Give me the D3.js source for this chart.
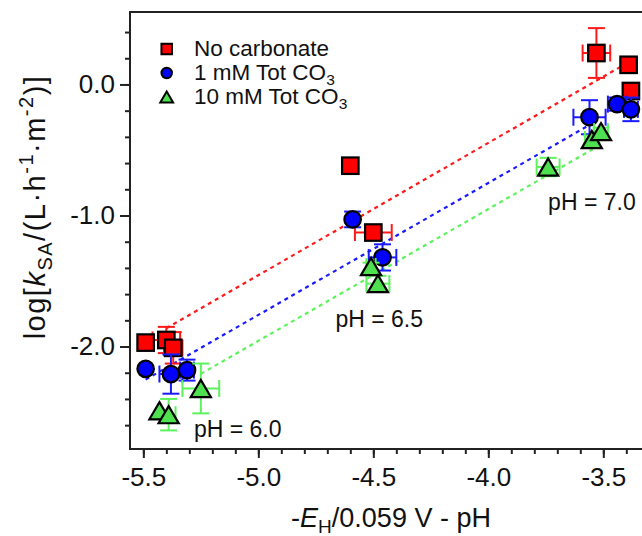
<!DOCTYPE html>
<meta charset="utf-8">
<style>
  body { margin: 0; background: #fff; }
  svg { display: block; font-family: "Liberation Sans", Arial, Helvetica, sans-serif; }
  .frame { fill: none; stroke: #222; stroke-width: 2; }
  .axis path { display: none; }
  .axis line { stroke: #222; stroke-width: 2; }
  .axis text { fill: #111; }
</style>
<svg width="642" height="536"></svg>
<script src="https://d3js.org/d3.v7.min.js"></script>
<script>
  // data
  var redX    = [-5.49, -5.40, -5.37, -4.60, -4.50, -3.53, -3.39, -3.38];
  var redY    = [-1.97, -1.95, -2.01, -0.62, -1.13,  0.24,  0.15, -0.05];
  var redXerr = [0, 0.06, 0.04, 0, 0.08, 0.06, 0, 0];
  var redYerr = [0.03, 0.10, 0.12, 0.02, 0.02, 0.19, 0, 0.02];

  var blueX    = [-5.49, -5.38, -5.31, -4.59, -4.46, -3.56, -3.44, -3.38];
  var blueY    = [-2.17, -2.21, -2.18, -1.03, -1.32, -0.25, -0.15, -0.19];
  var blueXerr = [0, 0.05, 0.03, 0, 0.06, 0.07, 0.04, 0.03];
  var blueYerr = [0, 0.15, 0.08, 0.06, 0.10, 0.13, 0.05, 0.09];

  var greenX    = [-5.43, -5.39, -5.25, -4.51, -4.48, -3.74, -3.55, -3.51];
  var greenY    = [-2.49, -2.52, -2.32, -1.39, -1.52, -0.63, -0.42, -0.36];
  var greenXerr = [0, 0.03, 0.08, 0.02, 0.05, 0.05, 0.03, 0.03];
  var greenYerr = [0, 0.12, 0.19, 0.03, 0.06, 0.07, 0.03, 0.03];

  // dotted fit lines: y = slope*x + intercept
  var fitSlope     = [1.01, 1.007, 1.006];
  var fitIntercept = [3.594, 3.276, 3.073];
  var fitXStart    = [-5.40, -5.49, -5.25];
  var fitXEnd      = [-3.40, -3.57, -3.53];

  var legendNames = ["No carbonate", "1 mM Tot CO", "10 mM Tot CO"];
  var phLabels = ["pH = 6.0", "pH = 6.5", "pH = 7.0"];
  var phLabelX = [-5.28, -4.665, -3.74];
  var phLabelY = [-2.69, -1.85, -0.96];

  var xMajor = [-5.5, -5.0, -4.5, -4.0, -3.5];
  var xMinor = d3.range(-55, -32).map(function(d){ return d / 10; });
  var yMajor = [-2.0, -1.0, 0.0];
  var yMinor = d3.range(-13, 3).map(function(d){ return d / 5; });

  var svg = d3.select("svg");
  var pLeft = 130, pRight = 660, pTop = 12, pBottom = 449;

  var x = d3.scaleLinear().domain([-5.558, -3.2535]).range([pLeft, pRight]);
  var y = d3.scaleLinear().domain([-2.782, 0.553]).range([pBottom, pTop]);

  var colors = ["#ff0000", "#0000ff", "#4ee04e"];
  var barColors = ["#ff1a1a", "#1a1aff", "#5cf25c"];

  var series = [
    {x: redX, y: redY, xe: redXerr, ye: redYerr, shape: "square"},
    {x: blueX, y: blueY, xe: blueXerr, ye: blueYerr, shape: "circle"},
    {x: greenX, y: greenY, xe: greenXerr, ye: greenYerr, shape: "triangle"}
  ];

  function marker(sel, shape, s) {
    if (shape == "square") {
      sel.append("rect").attr("x", -s/2).attr("y", -s/2).attr("width", s).attr("height", s);
    } else if (shape == "circle") {
      sel.append("circle").attr("r", s/2);
    } else {
      var w = s * 1.22, h = s * 1.04;
      sel.append("path").attr("d", "M0," + (-h/2) + "L" + (w/2) + "," + (h/2) + "L" + (-w/2) + "," + (h/2) + "Z");
    }
  }

  // axes
  svg.append("g").attr("class", "axis").attr("transform", "translate(0," + pBottom + ")")
    .call(d3.axisBottom(x).tickValues(xMinor).tickSize(5).tickFormat(""));
  svg.append("g").attr("class", "axis").attr("transform", "translate(0," + pBottom + ")")
    .call(d3.axisBottom(x).tickValues(xMajor).tickSize(9).tickPadding(10).tickFormat(function(d){ return d.toFixed(1); }))
    .selectAll("text").style("font-size", "26px");
  svg.append("g").attr("class", "axis").attr("transform", "translate(" + pLeft + ",0)")
    .call(d3.axisLeft(y).tickValues(yMinor).tickSize(5).tickFormat(""));
  svg.append("g").attr("class", "axis").attr("transform", "translate(" + pLeft + ",0)")
    .call(d3.axisLeft(y).tickValues(yMajor).tickSize(10).tickPadding(5).tickFormat(function(d){ return d.toFixed(1); }))
    .selectAll("text").style("font-size", "26px");

  svg.append("rect").attr("class", "frame")
    .attr("x", pLeft).attr("y", pTop).attr("width", pRight - pLeft).attr("height", pBottom - pTop);

  // fit lines
  fitSlope.forEach(function(m, i) {
    svg.append("line")
      .attr("x1", x(fitXStart[i])).attr("y1", y(m * fitXStart[i] + fitIntercept[i]))
      .attr("x2", x(fitXEnd[i])).attr("y2", y(m * fitXEnd[i] + fitIntercept[i]))
      .attr("stroke", barColors[i]).attr("stroke-width", 2.2).attr("stroke-dasharray", "4,4");
  });

  // error bars and markers
  var cap = 8.5;
  series.forEach(function(s, i) {
    var g = svg.append("g");
    s.x.forEach(function(xv, j) {
      var cx = x(xv), cy = y(s.y[j]);
      var eb = g.append("g").attr("stroke", barColors[i]).attr("stroke-width", 2);
      if (s.xe[j] > 0) {
        var xa = x(xv - s.xe[j]), xb = x(xv + s.xe[j]);
        eb.append("line").attr("x1", xa).attr("x2", xb).attr("y1", cy).attr("y2", cy);
        eb.append("line").attr("x1", xa).attr("x2", xa).attr("y1", cy - cap).attr("y2", cy + cap);
        eb.append("line").attr("x1", xb).attr("x2", xb).attr("y1", cy - cap).attr("y2", cy + cap);
      }
      if (s.ye[j] > 0) {
        var ya = y(s.y[j] - s.ye[j]), yb = y(s.y[j] + s.ye[j]);
        eb.append("line").attr("x1", cx).attr("x2", cx).attr("y1", ya).attr("y2", yb);
        eb.append("line").attr("x1", cx - cap).attr("x2", cx + cap).attr("y1", ya).attr("y2", ya);
        eb.append("line").attr("x1", cx - cap).attr("x2", cx + cap).attr("y1", yb).attr("y2", yb);
      }
    });
    s.x.forEach(function(xv, j) {
      var m = g.append("g").attr("transform", "translate(" + x(xv) + "," + y(s.y[j]) + ")")
        .attr("fill", colors[i]).attr("stroke", "#000").attr("stroke-width", 2.2);
      marker(m, s.shape, 16.5);
    });
  });

  // pH labels
  phLabels.forEach(function(t, i) {
    svg.append("text").attr("x", x(phLabelX[i])).attr("y", y(phLabelY[i]))
      .style("font-size", "23px").attr("fill", "#111").text(t);
  });

  // legend
  var shapes = ["square", "circle", "triangle"];
  legendNames.forEach(function(name, i) {
    var ly = 49 + i * 24;
    var m = svg.append("g").attr("transform", "translate(166.7," + ly + ")")
      .attr("fill", colors[i]).attr("stroke", "#000").attr("stroke-width", 2);
    marker(m, shapes[i], 10.5);
    var t = svg.append("text").attr("x", 194).attr("y", ly + 6.5)
      .style("font-size", "22.5px").attr("fill", "#111").text(name);
    if (i > 0) t.append("tspan").attr("dy", 5).style("font-size", "15.5px").text("3");
  });

  // axis titles
  var xt = svg.append("text").attr("x", 391).attr("y", 527).attr("text-anchor", "middle")
    .style("font-size", "27px").attr("fill", "#111");
  xt.append("tspan").text("-");
  xt.append("tspan").style("font-style", "italic").text("E");
  xt.append("tspan").attr("dy", 6).style("font-size", "19px").text("H");
  xt.append("tspan").attr("dy", -6).text("/0.059 V - pH");

  var yt = svg.append("text").attr("transform", "translate(45,207) rotate(-90)")
    .attr("text-anchor", "middle").style("font-size", "29px").style("letter-spacing", "1.5px").attr("fill", "#111");
  yt.append("tspan").text("log[");
  yt.append("tspan").style("font-style", "italic").text("k");
  yt.append("tspan").attr("dy", 7).style("font-size", "20px").text("SA");
  yt.append("tspan").attr("dy", -7).text("/(L\u00b7h");
  yt.append("tspan").attr("dy", -12).style("font-size", "20px").text("-1");
  yt.append("tspan").attr("dy", 12).text("\u00b7m");
  yt.append("tspan").attr("dy", -12).style("font-size", "20px").text("-2");
  yt.append("tspan").attr("dy", 12).text(")]");
</script>
